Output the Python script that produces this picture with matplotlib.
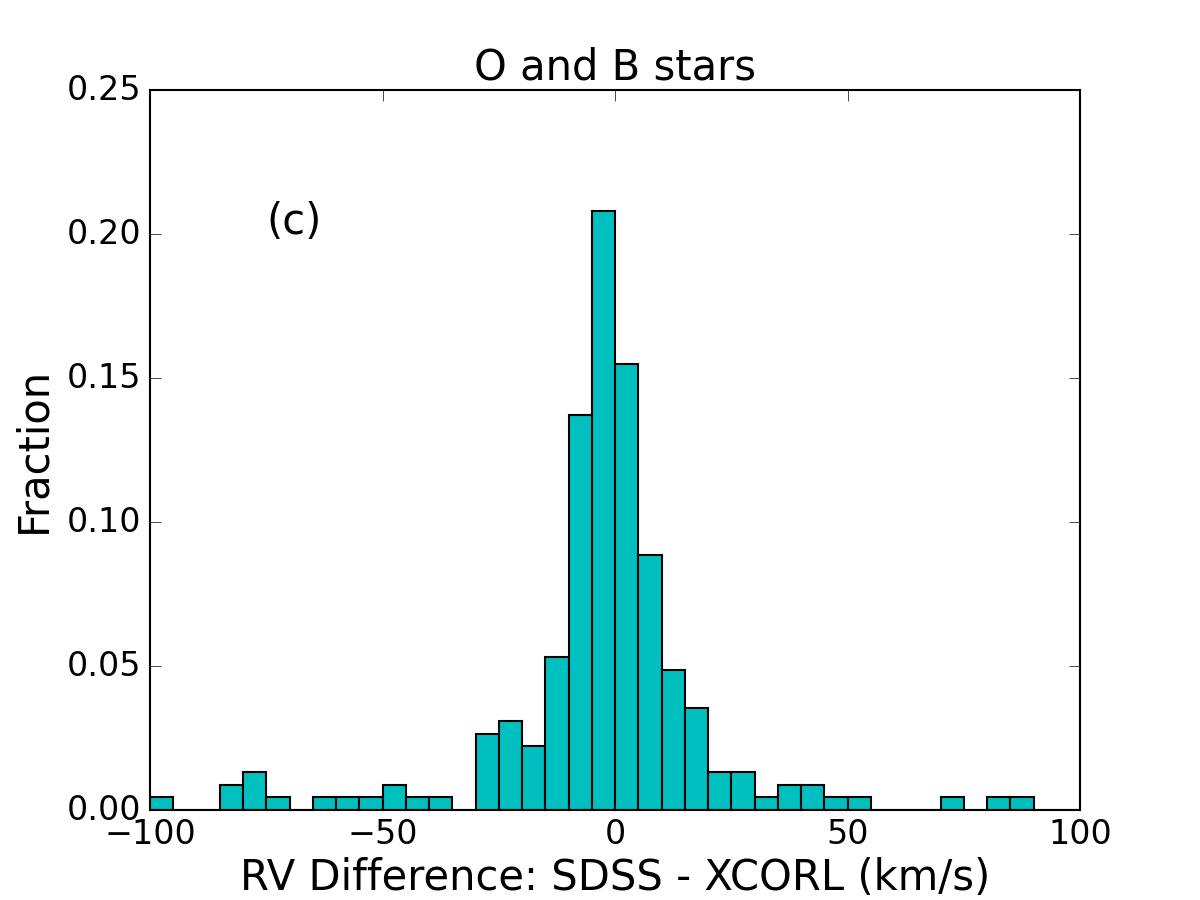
import matplotlib
matplotlib.use('Agg')
import matplotlib.pyplot as plt
import numpy as np

# bin left edges (km/s), width 5
bin_left = list(range(-100, 100, 5))
fraction = [0.0044, 0.0, 0.0, 0.0088, 0.0133, 0.0044, 0.0, 0.0044, 0.0044, 0.0044,
            0.0088, 0.0044, 0.0044, 0.0, 0.0265, 0.0310, 0.0221, 0.0531, 0.1372, 0.2080,
            0.1549, 0.0885, 0.0487, 0.0354, 0.0133, 0.0133, 0.0044, 0.0088, 0.0088, 0.0044,
            0.0044, 0.0, 0.0, 0.0, 0.0044, 0.0, 0.0044, 0.0044, 0.0, 0.0]

plt.style.use('classic')
fig = plt.figure(figsize=(12, 9), dpi=100)
ax = fig.add_subplot(111)
fig.subplots_adjust(left=0.125, right=0.9, bottom=0.1, top=0.9)

edges = np.append(bin_left, 100)
ax.hist(bin_left, bins=edges, weights=fraction, color='c', edgecolor='k', linewidth=1.5)

ax.set_xlim(-100, 100)
ax.set_ylim(0, 0.25)
ax.set_xticks([-100, -50, 0, 50, 100])
ax.set_yticks([0, 0.05, 0.10, 0.15, 0.20, 0.25])
ax.tick_params(labelsize=24, direction='in', length=8)
ax.tick_params(axis='y', pad=6)
ax.tick_params(axis='x', pad=6)
for s in ax.spines.values():
    s.set_linewidth(1.5)

ax.set_xlabel('RV Difference: SDSS - XCORL (km/s)', fontsize=30, labelpad=4)
ax.set_ylabel('Fraction', fontsize=30, labelpad=9)
ax.set_title('O and B stars', fontsize=30, y=1.005)
ax.text(-75, 0.2, '(c)', fontsize=30)

fig.savefig('out.png', dpi=100)
